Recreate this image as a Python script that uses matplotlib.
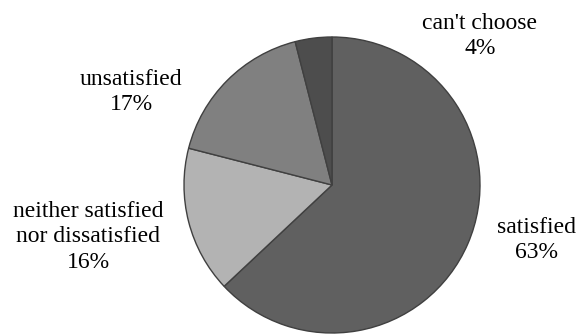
import matplotlib.pyplot as plt

labels = ["satisfied", "neither satisfied\nnor dissatisfied", "unsatisfied", "can't choose"]
shares = [63, 16, 17, 4]
colors = ["#606060", "#b3b3b3", "#808080", "#4d4d4d"]

# label anchor points in pixels (x from left, y from bottom)
label_pos = [(536, 94), (88, 97), (131, 242), (480, 298)]

plt.rcParams['font.family'] = ['Liberation Serif', 'DejaVu Serif']

fig = plt.figure(figsize=(5.77, 3.34), dpi=100)
ax = fig.add_axes([0, 0, 1, 1])

ax.pie(shares, colors=colors, startangle=90, counterclock=False,
       center=(332, 149), radius=148, frame=True,
       wedgeprops=dict(edgecolor='#404040', linewidth=1.0))
ax.set_xlim(0, 577)
ax.set_ylim(0, 334)
ax.set_aspect('equal')
ax.axis('off')

for lab, val, (x, y) in zip(labels, shares, label_pos):
    ax.text(x, y, f"{lab}\n{val}%", ha='center', va='center',
            fontsize=17, linespacing=1.3, color='black')

fig.savefig("out.png", dpi=100)
